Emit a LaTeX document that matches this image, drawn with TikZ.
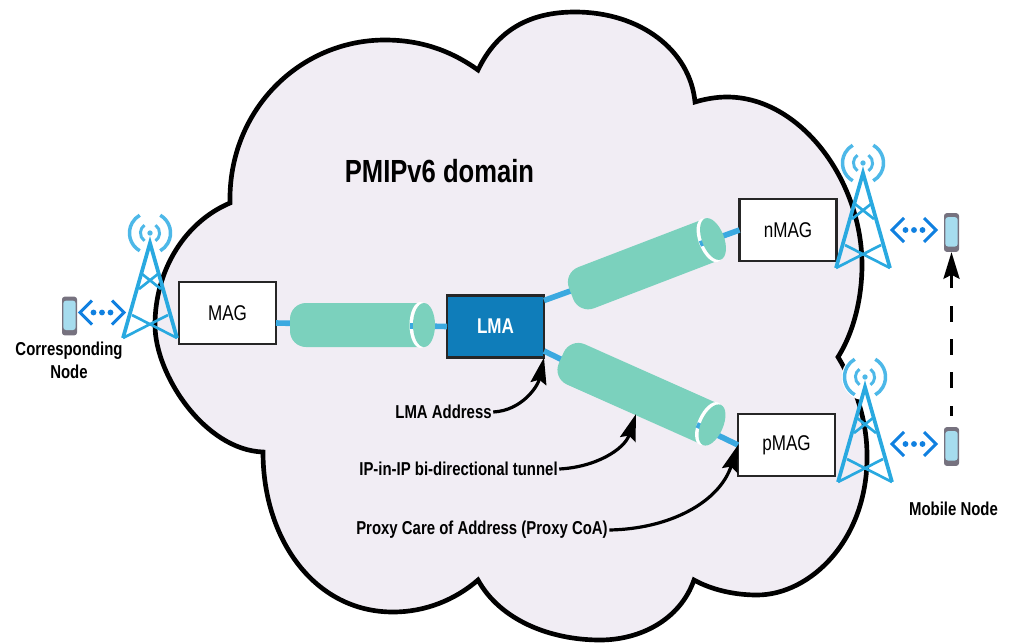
\documentclass[tikz,border=0pt]{standalone}
\usepackage{fontspec}
\setmainfont{Liberation Sans}[FakeStretch=0.8]
\usetikzlibrary{arrows.meta}
\usetikzlibrary{calc}
\definecolor{cloudfill}{HTML}{F1EDF4}
\definecolor{lmablue}{HTML}{0F7DBA}
\definecolor{pipeblue}{HTML}{3BA9E0}
\definecolor{tubegreen}{HTML}{7BD1BD}
\definecolor{towerblue}{HTML}{29A9E0}
\definecolor{signalblue}{HTML}{4DB8E8}
\definecolor{waveblue}{HTML}{1080E0}
\definecolor{phonegray}{HTML}{76727F}
\definecolor{phonescreen}{HTML}{A6DCEE}
\tikzset{
  box/.style={draw=black!85, line width=1.8pt, fill=white, outer sep=0pt,
    minimum width=72.75pt, minimum height=46.5pt, font=\fontsize{16}{18}\selectfont},
  label/.style={inner sep=1pt, align=center, font=\fontsize{14}{17}\selectfont\bfseries},
  pipe/.style={pipeblue, line width=4.2pt},
  callout/.style={-{Stealth[length=20pt,width=12pt,inset=3pt]}, line width=2.4pt},
  phone/.style={rectangle, rounded corners=2pt, fill=phonegray, inner sep=0pt,
    minimum width=11.25pt, minimum height=29pt,
    path picture={\fill[phonescreen]
      ($(path picture bounding box.south west)+(1pt,4pt)$) rectangle
      ($(path picture bounding box.north east)+(-1pt,-3pt)$);}},
  pics/tunnel/.style 2 args={code={
    \fill[tubegreen] (0,22) [rounded corners=12pt] -- (-#1,22) -- (-#1,-22)
      [sharp corners] -- (0,-22) -- cycle;
    \fill[white] (-3.5,0) ellipse [x radius=11, y radius=23];
    \draw[pipe] (-14,#2) -- (-9,#2);
    \fill[tubegreen] (0,0) ellipse [x radius=11, y radius=22];
  }},
  pics/tower/.style={code={
    \fill[white] (0,-10) circle (17.5pt);
    \fill[signalblue] (0,-10) circle (2pt);
    \foreach \a in {180,0} {
      \draw[signalblue, line width=2.6pt] (0,-10) ++(\a+60:15.4pt)
        arc [start angle=\a+60, end angle=\a-60, radius=15.4pt];
      \draw[signalblue, line width=2.2pt] (0,-10) ++(\a+55:7.2pt)
        arc [start angle=\a+55, end angle=\a-55, radius=7.2pt];
    }
    \draw[towerblue, line width=2.8pt, line join=miter] (-27,95) -- (0,0) -- (27,95);
    \draw[towerblue, line width=2pt] (-8,31) -- (11,46) (8,31) -- (-11,46)
      (-18,72) -- (27,95) (18,72) -- (-27,95);
  }},
  pics/waves/.style={code={
    \draw[waveblue, line width=2.2pt] (-10,-12) -- (-22,0) -- (-10,12)
      (10,-12) -- (22,0) -- (10,12);
    \foreach \x in {-8.5,0,8.5} \fill[waveblue] (\x,0) circle (2.2pt);
  }},
}
\begin{document}
\begin{tikzpicture}[x=.75pt, y=-.75pt]
  \useasboundingbox (0,0) rectangle (1010,643);
  % cloud
  \draw[fill=cloudfill, line width=3.5pt, line join=miter] (230,203)
    .. controls (185,222) and (155,270) .. (155,325)
    .. controls (155,375) and (205,450) .. (263,452)
    .. controls (263,540) and (315,612) .. (393,612)
    .. controls (425,612) and (455,600) .. (478,580)
    .. controls (500,620) and (550,640) .. (600,640)
    .. controls (640,640) and (680,620) .. (694,580)
    .. controls (712,590) and (735,595) .. (757,595)
    .. controls (810,595) and (868,540) .. (867,455)
    .. controls (867,420) and (855,385) .. (838,357)
    .. controls (855,330) and (862,295) .. (862,265)
    .. controls (862,180) and (800,97) .. (727,97)
    .. controls (716,97) and (705,99) .. (695,102)
    .. controls (690,50) and (640,12) .. (575,12)
    .. controls (530,12) and (497,30) .. (478,70)
    .. controls (450,50) and (420,40) .. (385,40)
    .. controls (300,40) and (228,110) .. (230,203) -- cycle;
  \node[font=\fontsize{24}{28}\selectfont\bfseries] (title) at (439.5,171) {PMIPv6 domain};
  % boxes
  \node[box] (MAG) at (227.5,313) {MAG};
  \node[box] (nMAG) at (788,230) {nMAG};
  \node[box] (pMAG) at (786.5,445) {pMAG};
  \node[box, fill=lmablue, text=white, font=\fontsize{16}{18}\selectfont\bfseries] (LMA) at (495.5,326.5) {LMA};
  % pipes
  \draw[pipe] ($(MAG.east)+(0,10)$) -- (LMA.west);
  \draw[pipe] ($(LMA.east)+(0,-26)$) -- (nMAG.west);
  \draw[pipe] ($(LMA.east)+(0,24.5)$) -- (pMAG.west);
  % tunnels
  \coordinate (capMAG) at (424,325);
  \coordinate (capN) at (713,239);
  \coordinate (capP) at (712,425);
  \pic at (capMAG) {tunnel={134}{1}};
  \pic[rotate=21] at (capN) {tunnel={152}{0}};
  \pic[rotate=-24] at (capP) {tunnel={165}{6}};
  % towers
  \coordinate (towerC) at (150,243);
  \coordinate (towerN) at (863,173);
  \coordinate (towerP) at (865,387);
  \pic at (towerC) {tower};
  \pic at (towerN) {tower};
  \pic at (towerP) {tower};
  % phones
  \node[phone] (phoneC) at (69.5,316) {};
  \node[phone] (phoneN) at (951.5,232.5) {};
  \node[phone] (phoneP) at (951.5,446.5) {};
  \coordinate (wavesC) at (102,312.5);
  \coordinate (wavesN) at (914,230);
  \coordinate (wavesP) at (914,444);
  \pic at (wavesC) {waves};
  \pic at (wavesN) {waves};
  \pic at (wavesP) {waves};
  \draw[callout, dash pattern=on 12pt off 13pt, dash phase=4pt, shorten <=8pt] (phoneP.north) -- (phoneN.south);
  % labels
  \node[label] (corr) at (69,360) {Corresponding\\Node};
  \node[label] (mobile) at (953.5,509) {Mobile Node};
  \node[label] (addr) at (443.5,412) {LMA Address};
  \node[label] (tunnel) at (458.5,469) {IP-in-IP bi-directional tunnel};
  \node[label] (coa) at (482,530) {Proxy Care of Address (Proxy CoA)};
  \coordinate (tunnelTip) at (636,414);
  \draw[callout] (addr.east) to[out=3, in=-102] (LMA.south east);
  \draw[callout] (tunnel.east) to[out=3, in=-108] (tunnelTip);
  \draw[callout] (coa.east) to[out=1, in=-108] (pMAG.west);
\end{tikzpicture}
\end{document}
